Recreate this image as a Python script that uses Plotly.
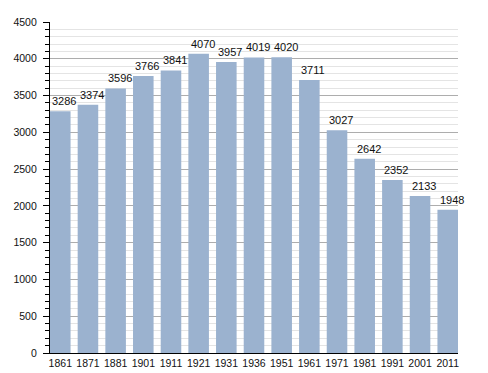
import plotly.graph_objects as go

years = ["1861", "1871", "1881", "1901", "1911", "1921", "1931", "1936",
         "1951", "1961", "1971", "1981", "1991", "2001", "2011"]
population = [3286, 3374, 3596, 3766, 3841, 4070, 3957, 4019,
              4020, 3711, 3027, 2642, 2352, 2133, 1948]

positions = list(range(len(years)))
bar_w = 0.743

fig = go.Figure(go.Bar(
    x=positions, y=population, width=bar_w,
    marker=dict(color="#9bb2cf", line=dict(width=0)),
    showlegend=False,
))

for xp, v in zip(positions, population):
    fig.add_annotation(
        x=xp, y=v, text=str(v), showarrow=False,
        xanchor="center", yanchor="middle", yshift=10, xshift=4,
        font=dict(family="Liberation Sans, Arial, sans-serif", size=11, color="#111"),
    )

# the page body has an 8px default margin, so the figure is offset by 8px
fig.update_layout(
    width=480, height=365,
    margin=dict(l=42, r=30, t=14, b=20, autoexpand=False),
    paper_bgcolor="white", plot_bgcolor="white",
    font=dict(family="Liberation Sans, Arial, sans-serif", size=10.5, color="#111"),
    showlegend=False,
    xaxis=dict(
        range=[-bar_w / 2, len(years) - 1 + bar_w / 2],
        tickvals=positions, ticktext=years,
        showgrid=False, zeroline=False, automargin=False,
        showline=True, linecolor="black", linewidth=1.2,
        ticks="", ticklabelstandoff=0,
        fixedrange=True,
    ),
    yaxis=dict(
        range=[0, 4500], tick0=0, dtick=500, automargin=False,
        showgrid=True, gridcolor="#adadad", gridwidth=1,
        zeroline=False,
        showline=True, linecolor="black", linewidth=1.2,
        ticks="outside", ticklen=6, tickcolor="black", tickwidth=1,
        ticklabelstandoff=4,
        minor=dict(dtick=100, ticks="outside", ticklen=4, tickcolor="black",
                   showgrid=True, gridcolor="#e4e4e4", gridwidth=1),
        fixedrange=True,
    ),
)

fig.write_html("out.html")
